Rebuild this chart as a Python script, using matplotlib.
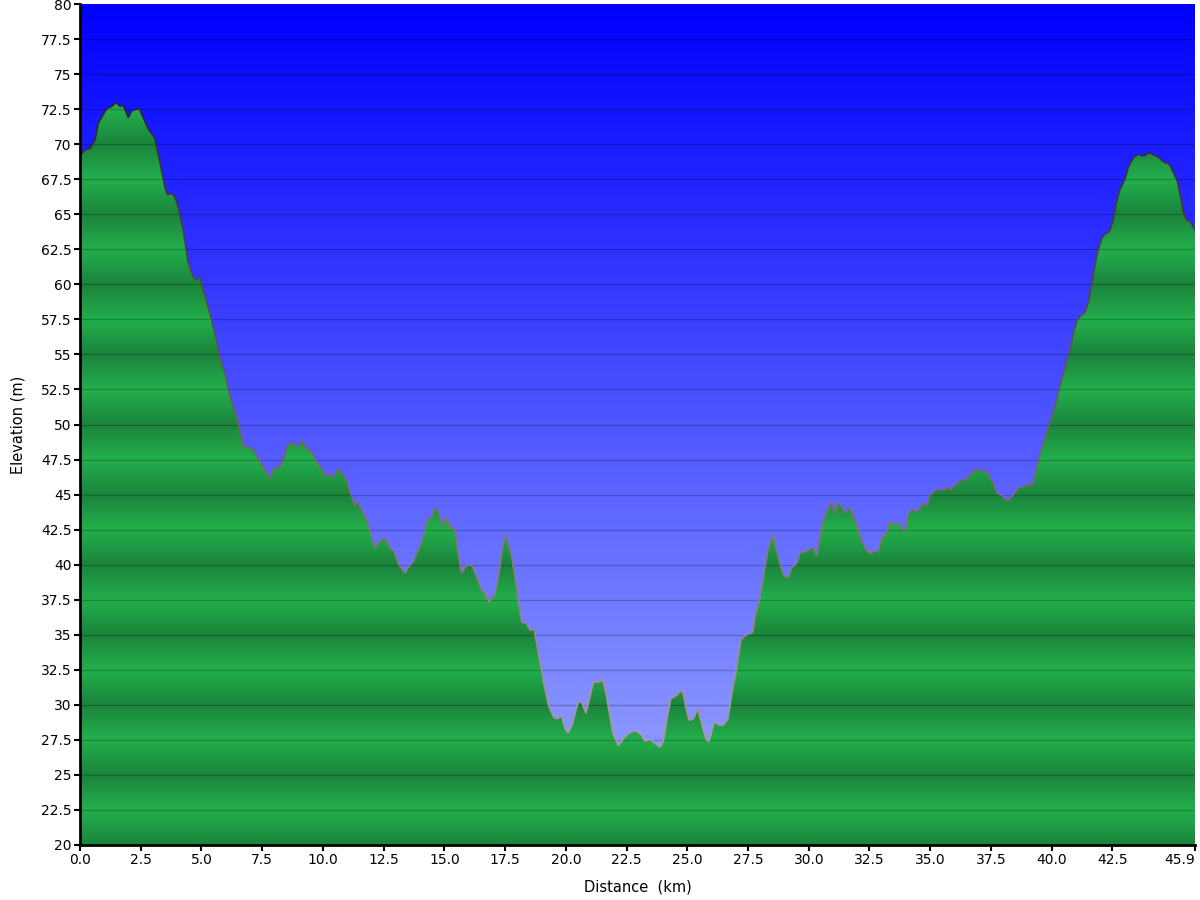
import numpy as np
import matplotlib
matplotlib.use('Agg')
import matplotlib.pyplot as plt
from matplotlib.collections import LineCollection

# elevation profile (km, m)
distance_km = [
    0.00, 0.21, 0.41, 0.55, 0.62, 0.75, 1.10, 1.31, 1.48, 1.65, 1.78, 1.99, 2.13, 2.44, 2.68, 2.81,
    3.09, 3.29, 3.50, 3.59, 3.78, 3.91, 4.05, 4.25, 4.46, 4.66, 4.80, 4.94, 5.15, 5.35, 5.56, 5.76,
    5.97, 6.18, 6.38, 6.59, 6.72, 6.93, 7.13, 7.34, 7.55, 7.82, 8.03, 8.23, 8.37, 8.58, 8.78, 8.99,
    9.13, 9.33, 9.54, 9.74, 9.95, 10.09, 10.22, 10.36, 10.50, 10.63, 10.84, 10.98, 11.09, 11.19,
    11.32, 11.39, 11.60, 11.80, 11.94, 12.14, 12.28, 12.49, 12.63, 12.76, 12.93, 13.10, 13.38,
    13.59, 13.72, 13.89, 14.00, 14.20, 14.30, 14.45, 14.61, 14.75, 14.93, 15.07, 15.30, 15.44,
    15.53, 15.71, 15.92, 16.13, 16.33, 16.54, 16.67, 16.84, 16.95, 17.09, 17.22, 17.36, 17.50,
    17.63, 17.77, 17.91, 18.04, 18.18, 18.39, 18.53, 18.69, 18.87, 19.07, 19.28, 19.49, 19.62,
    19.83, 19.97, 20.10, 20.28, 20.51, 20.65, 20.83, 21.13, 21.34, 21.52, 21.68, 21.93, 22.16,
    22.37, 22.57, 22.78, 22.92, 23.12, 23.26, 23.47, 23.67, 23.88, 24.01, 24.15, 24.32, 24.49,
    24.63, 24.73, 24.84, 24.95, 25.08, 25.25, 25.43, 25.59, 25.77, 25.89, 26.11, 26.32, 26.48,
    26.67, 26.83, 27.04, 27.20, 27.34, 27.51, 27.69, 27.79, 27.97, 28.16, 28.30, 28.52, 28.71,
    28.89, 29.02, 29.16, 29.30, 29.51, 29.64, 29.92, 30.16, 30.33, 30.54, 30.74, 30.95, 31.08,
    31.18, 31.32, 31.49, 31.67, 31.91, 32.18, 32.39, 32.52, 32.73, 32.87, 33.01, 33.18, 33.34,
    33.55, 33.73, 33.83, 33.96, 34.10, 34.24, 34.45, 34.72, 34.86, 34.99, 35.27, 35.54, 35.75,
    35.82, 36.02, 36.23, 36.50, 36.71, 36.91, 37.05, 37.26, 37.46, 37.60, 37.74, 37.95, 38.08,
    38.22, 38.42, 38.63, 38.83, 39.04, 39.22, 39.39, 39.59, 39.80, 40.00, 40.14, 40.35, 40.55,
    40.76, 40.89, 41.06, 41.24, 41.37, 41.51, 41.65, 41.79, 41.92, 42.06, 42.20, 42.37, 42.51,
    42.65, 42.79, 43.02, 43.16, 43.36, 43.57, 43.77, 44.02, 44.19, 44.39, 44.60, 44.84, 45.01,
    45.17, 45.31, 45.42, 45.56, 45.73, 45.90,
]
elevation_m = [
    69.2, 69.6, 69.7, 70.1, 70.3, 71.5, 72.55, 72.7, 73.0, 72.7, 72.8, 71.9, 72.4, 72.55, 71.6, 71.1,
    70.4, 68.75, 66.95, 66.4, 66.5, 66.25, 65.5, 63.9, 61.5, 60.55, 60.3, 60.55, 59.2, 57.9, 56.5, 54.8,
    53.65, 52.0, 51.0, 49.6, 48.5, 48.4, 48.2, 47.6, 47.0, 46.2, 47.0, 47.0, 47.5, 48.65, 48.65, 48.4,
    48.9, 48.3, 48.05, 47.35, 46.9, 46.3, 46.55, 46.3, 46.4, 46.9, 46.4, 46.05, 45.3, 44.85,
    44.2, 44.6, 43.9, 43.2, 42.35, 41.2, 41.6, 41.9, 41.75, 41.2, 41.0, 40.1, 39.4,
    40.0, 40.2, 41.0, 41.3, 42.5, 43.3, 43.3, 44.1, 43.8, 42.75, 43.4, 42.6, 42.5,
    41.3, 39.4, 40.0, 40.0, 39.15, 38.2, 38.0, 37.3, 37.7, 37.9, 39.15, 40.8, 42.2,
    41.5, 40.6, 39.15, 37.5, 35.9, 35.8, 35.3, 35.45, 33.7, 31.8, 30.0, 29.15, 29.0,
    29.2, 28.3, 28.0, 28.7, 30.2, 30.2, 29.4, 31.6, 31.6, 31.8, 30.6, 28.05, 27.1,
    27.6, 27.95, 28.15, 28.15, 27.85, 27.4, 27.55, 27.25, 27.0, 27.4, 28.9, 30.45, 30.6,
    30.8, 31.05, 30.8, 29.75, 28.9, 29.0, 29.75, 28.7, 27.55, 27.4, 28.8, 28.55, 28.55,
    29.0, 30.8, 32.7, 34.6, 34.9, 35.05, 35.15, 36.4, 37.5, 39.4, 40.9, 42.2, 40.8,
    39.65, 39.15, 39.15, 39.8, 40.1, 40.85, 41.0, 41.3, 40.6, 42.9, 43.8, 44.5, 43.7,
    44.3, 44.3, 43.7, 44.1, 43.2, 41.7, 41.05, 40.8, 41.0, 41.0, 42.0, 42.2, 43.1,
    42.9, 43.0, 42.6, 42.45, 43.65, 44.0, 43.8, 44.4, 44.25, 44.95, 45.4, 45.3, 45.6,
    45.3, 45.7, 46.0, 46.15, 46.55, 46.9, 46.6, 46.8, 46.25, 45.8, 45.1, 44.95, 44.7,
    44.6, 44.95, 45.55, 45.55, 45.8, 45.7, 47.0, 48.3, 49.5, 50.55, 51.4, 52.8, 54.1,
    55.4, 56.5, 57.55, 57.8, 58.0, 58.75, 60.05, 61.5, 62.55, 63.3, 63.6, 63.75, 64.45,
    65.75, 66.7, 67.55, 68.4, 69.05, 69.3, 69.15, 69.4, 69.25, 69.1, 68.75, 68.6, 68.0,
    67.4, 66.25, 65.2, 64.6, 64.45, 63.85,
]

x_ticks = [0.0, 2.5, 5.0, 7.5, 10.0, 12.5, 15.0, 17.5, 20.0, 22.5, 25.0, 27.5, 30.0,
           32.5, 35.0, 37.5, 40.0, 42.5, 45.9]
y_ticks = np.arange(20, 80.1, 2.5)

x_max = 45.9
y_min, y_max = 20, 80

plt.rcParams['font.family'] = ['DejaVu Sans']

fig = plt.figure(figsize=(12, 9), dpi=100)
ax = fig.add_axes([80 / 1200, 55 / 900, 1115 / 1200, 841 / 900])

# sky: vertical gradient from pure blue (top) to pale blue (bottom)
t = np.linspace(0, 1, 400)[:, None]  # 0 at top
top = np.array([0, 0, 255]) / 255
bottom = np.array([158, 172, 255]) / 255
sky = (top + (bottom - top) * t)[:, None, :]
ax.imshow(sky, extent=[0, x_max, y_min, y_max], aspect='auto', zorder=0, interpolation='bilinear')

# ground: fill polygon with banded green gradient (triangle wave, dark at every 5 m)
fill = ax.fill_between(distance_km, elevation_m, y_min, color='none', lw=0, zorder=1)
ev = np.linspace(y_max, y_min, 1200)
frac = (ev / 5.0) % 1.0
phase = 1 - np.abs(frac * 2 - 1)
dark = np.array([27, 132, 60]) / 255
light = np.array([35, 175, 76]) / 255
ground = (dark + (light - dark) * phase[:, None])[:, None, :]
im = ax.imshow(ground, extent=[0, x_max, y_min, y_max], aspect='auto', zorder=1,
               interpolation='bilinear')
im.set_clip_path(fill.get_paths()[0], transform=ax.transData)

# horizontal grid
for yv in y_ticks[1:-1]:
    ax.axhline(yv, color='black', alpha=0.22, lw=1.0, zorder=2)

# outline, darker higher up
pts = np.column_stack([distance_km, elevation_m])
segs = np.stack([pts[:-1], pts[1:]], axis=1)
mid = (pts[:-1, 1] + pts[1:, 1]) / 2
f = np.clip((mid - 27) / (73 - 27), 0, 1)[:, None]
cols = np.array([0.66, 0.62, 0.62]) * (1 - f) + np.array([0.16, 0.16, 0.16]) * f
ax.add_collection(LineCollection(segs, colors=cols, linewidths=1.3, zorder=3))

ax.set_xlim(0, x_max)
ax.set_ylim(y_min, y_max)
ax.set_xticks(x_ticks)
ax.set_xticklabels(['%.1f' % v for v in x_ticks])
ax.set_yticks(y_ticks)
ax.set_yticklabels(['%g' % v for v in y_ticks])
ax.tick_params(direction='out', length=4, width=1.5, labelsize=10, colors='black', pad=2)
ax.get_xticklabels()[-1].set_horizontalalignment('right')
ax.get_xticklabels()[-1].set_x(45.95)

for s in ['top', 'right']:
    ax.spines[s].set_visible(False)
for s in ['left', 'bottom']:
    ax.spines[s].set_linewidth(2)
    ax.spines[s].set_zorder(5)

ax.set_xlabel('Distance  (km)', fontsize=10.5, labelpad=9)
ax.set_ylabel('Elevation (m)', fontsize=10.5, labelpad=11)

fig.savefig('out.png', dpi=100)
